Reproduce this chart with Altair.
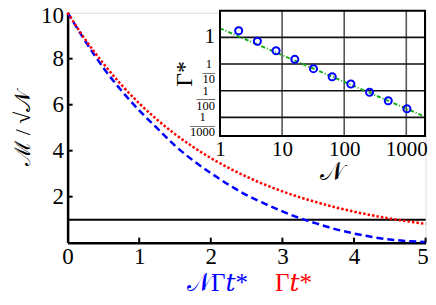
import altair as alt
import pandas as pd

# ---------------- data ----------------
x_vals = [0.0, 0.25, 0.5, 0.75, 1.0, 1.25, 1.5, 1.75, 2.0, 2.25, 2.5,
          2.75, 3.0, 3.25, 3.5, 3.75, 4.0, 4.25, 4.5, 4.75, 5.0]
blue_vals = [10.0, 8.75, 7.6, 6.62, 5.75, 4.98, 4.22, 3.58, 3.03, 2.52, 2.07,
             1.70, 1.36, 1.06, 0.81, 0.58, 0.40, 0.25, 0.14, 0.07, 0.03]
red_vals = [10.0, 8.82, 7.79, 6.87, 6.06, 5.35, 4.72, 4.17, 3.68, 3.25, 2.87,
            2.53, 2.23, 1.97, 1.74, 1.53, 1.35, 1.19, 1.05, 0.93, 0.82]
threshold = 1.0
main_xticks = [0, 1, 2, 3, 4, 5]
main_yticks = [2, 4, 6, 8, 10]

inset_N = [2, 4, 8, 16, 32, 64, 128, 256, 512, 1024]
inset_gamma = [1.78, 0.71, 0.316, 0.15, 0.067, 0.0335, 0.0178, 0.0087, 0.0042, 0.0021]
fit_N = [1, 2000]
fit_gamma = [2.18, 0.00106]
inset_xticks = [1, 10, 100, 1000]
inset_yticks = [1, 0.1, 0.01, 0.001]
inset_ylabels = [["1"], ["1", "—", "10"], ["1", "—–", "100"], ["1", "——", "1000"]]

FONT = "Liberation Serif, Times New Roman, DejaVu Serif, serif"
BLUE = "#0000ff"
RED = "#ff0000"
GREEN = "#1aad1a"

# ---------------- main plot ----------------
W, H = 358, 230
xs = alt.Scale(domain=[0, 5], nice=False, zero=False)
ys = alt.Scale(domain=[0, 10], nice=False)
xaxis = alt.Axis(values=main_xticks, ticks=False, grid=False, domainColor="black",
                 domainWidth=2.5, labelFont=FONT, labelFontSize=23, labelColor="black",
                 labelPadding=3, labelFlush=False, title=None,
                 labelOffset={"condition": {"test": "datum.value == 5", "value": -3}, "value": 0})
yaxis = alt.Axis(values=main_yticks, ticks=False, grid=False, domainColor="black",
                 domainWidth=2.5, labelFont=FONT, labelFontSize=23, labelColor="black",
                 labelPadding=4, labelFlush=False, title="ℳ / √𝒩", titleFont=FONT,
                 titleFontSize=22, titleFontWeight="normal", titleColor="black",
                 titlePadding=6,
                 labelOffset={"condition": {"test": "datum.value == 10", "value": 3}, "value": 0})

df = pd.DataFrame({"x": x_vals, "blue": blue_vals, "red": red_vals})

blue = alt.Chart(df).mark_line(color=BLUE, strokeWidth=2.5, strokeDash=[7, 4],
                               interpolate="monotone").encode(
    x=alt.X("x:Q", scale=xs, axis=xaxis), y=alt.Y("blue:Q", scale=ys, axis=yaxis))
red = alt.Chart(df).mark_line(color=RED, strokeWidth=2.5, strokeDash=[2.5, 2],
                              interpolate="monotone").encode(
    x=alt.X("x:Q", scale=xs, axis=xaxis), y=alt.Y("red:Q", scale=ys, axis=yaxis))
hline = alt.Chart(pd.DataFrame({"y": [threshold], "x0": [0], "x1": [5]})).mark_rule(
    color="black", strokeWidth=2).encode(
    x=alt.X("x0:Q", scale=xs, axis=xaxis), x2="x1:Q", y=alt.Y("y:Q", scale=ys, axis=yaxis))
xt = alt.Chart(pd.DataFrame({"x": main_xticks[1:], "y0": [0] * 5, "y1": [0.22] * 5})).mark_rule(
    color="black", strokeWidth=2).encode(
    x=alt.X("x:Q", scale=xs, axis=xaxis), y=alt.Y("y0:Q", scale=ys, axis=yaxis), y2="y1:Q")
yt = alt.Chart(pd.DataFrame({"y": main_yticks[:-1], "x0": [0] * 4, "x1": [0.07] * 4})).mark_rule(
    color="black", strokeWidth=2).encode(
    x=alt.X("x0:Q", scale=xs, axis=xaxis), x2="x1:Q", y=alt.Y("y:Q", scale=ys, axis=yaxis))

one = pd.DataFrame({"a": [0]})
tblue = alt.Chart(one).mark_text(text="𝒩Γ𝑡*", font=FONT, fontSize=25, color=BLUE,
                                 align="center", baseline="middle").encode(
    x=alt.value(150), y=alt.value(270))
tred = alt.Chart(one).mark_text(text="Γ𝑡*", font=FONT, fontSize=25, color=RED,
                                align="center", baseline="middle").encode(
    x=alt.value(226), y=alt.value(270))

main = alt.layer(hline, blue, red, xt, yt, tblue, tred)

# ---------------- inset ----------------
ixs = alt.Scale(type="log", domain=[1, 2000], range=[152.4, 357.4], nice=False)
iys = alt.Scale(type="log", domain=[0.0002, 10], range=[123.3, -2], nice=False)
ixaxis = alt.Axis(orient="bottom", offset=-106.7, values=inset_xticks, format="d",
                  domain=False, ticks=False, grid=False, labelFont=FONT, labelFontSize=21,
                  labelColor="black", labelPadding=3, labelFlush=False, title="𝒩",
                  titleFont=FONT, titleFontSize=25, titleFontWeight="normal",
                  titleColor="black", titlePadding=0, titleX=264)
iyaxis = alt.Axis(orient="left", offset=-152.4, labels=False, domain=False, ticks=False,
                  grid=False, title="Γ*", titleFont=FONT, titleFontSize=24,
                  titleFontWeight="normal", titleColor="black", titlePadding=24)

box = pd.DataFrame({"x0": [1], "x1": [2000], "y0": [0.0002], "y1": [10]})
bg = alt.Chart(box).mark_rect(fill="white").encode(
    x=alt.X("x0:Q", scale=ixs, axis=ixaxis), x2="x1:Q",
    y=alt.Y("y0:Q", scale=iys, axis=iyaxis), y2="y1:Q")
gv = alt.Chart(pd.DataFrame({"x": inset_xticks[1:], "y0": [0.0002] * 3, "y1": [10] * 3})).mark_rule(
    color="#555555", strokeWidth=1.6).encode(
    x=alt.X("x:Q", scale=ixs, axis=ixaxis), y=alt.Y("y0:Q", scale=iys, axis=iyaxis), y2="y1:Q")
gh = alt.Chart(pd.DataFrame({"y": inset_yticks, "x0": [1] * 4, "x1": [2000] * 4})).mark_rule(
    color="#111111", strokeWidth=1.6).encode(
    x=alt.X("x0:Q", scale=ixs, axis=ixaxis), x2="x1:Q", y=alt.Y("y:Q", scale=iys, axis=iyaxis))
fit = alt.Chart(pd.DataFrame({"N": fit_N, "g": fit_gamma})).mark_line(
    color=GREEN, strokeWidth=2, strokeDash=[4, 2, 1, 2]).encode(
    x=alt.X("N:Q", scale=ixs, axis=ixaxis), y=alt.Y("g:Q", scale=iys, axis=iyaxis))
pts = alt.Chart(pd.DataFrame({"N": inset_N, "g": inset_gamma})).mark_point(
    shape="circle", filled=False, color=BLUE, strokeWidth=2, size=50, opacity=1).encode(
    x=alt.X("N:Q", scale=ixs, axis=ixaxis), y=alt.Y("g:Q", scale=iys, axis=iyaxis))
frame = alt.Chart(box).mark_rect(fill="transparent", stroke="black", strokeWidth=2).encode(
    x=alt.X("x0:Q", scale=ixs, axis=ixaxis), x2="x1:Q",
    y=alt.Y("y0:Q", scale=iys, axis=iyaxis), y2="y1:Q")

label_layers = []
for v, lines in zip(inset_yticks, inset_ylabels):
    d = pd.DataFrame({"x": [1], "y": [v]})
    if len(lines) == 1:
        m = alt.Chart(d).mark_text(text=lines[0], font=FONT, fontSize=21, color="black",
                                   align="right", baseline="middle", dx=-5)
    else:
        w = 0.5 * 12.5 * len(lines[2])
        m = alt.Chart(d).mark_text(text=lines, font=FONT, fontSize=12.5, color="black",
                                   align="center", baseline="middle", lineHeight=7.5,
                                   dx=-5 - w / 2)
    label_layers.append(m.encode(x=alt.X("x:Q", scale=ixs, axis=ixaxis),
                                 y=alt.Y("y:Q", scale=iys, axis=iyaxis)))

inset = alt.layer(bg, gv, gh, fit, pts, frame, *label_layers)

chart = alt.layer(main, inset).resolve_scale(x="independent", y="independent").properties(
    width=W, height=H,
    autosize=alt.AutoSizeParams(type="none"),
    padding={"left": 59.6, "top": 4.7, "right": 2.4, "bottom": 54},
).configure_view(stroke=None).configure(background="white")

chart.save("out.html", embed_options={"renderer": "svg", "actions": False})
